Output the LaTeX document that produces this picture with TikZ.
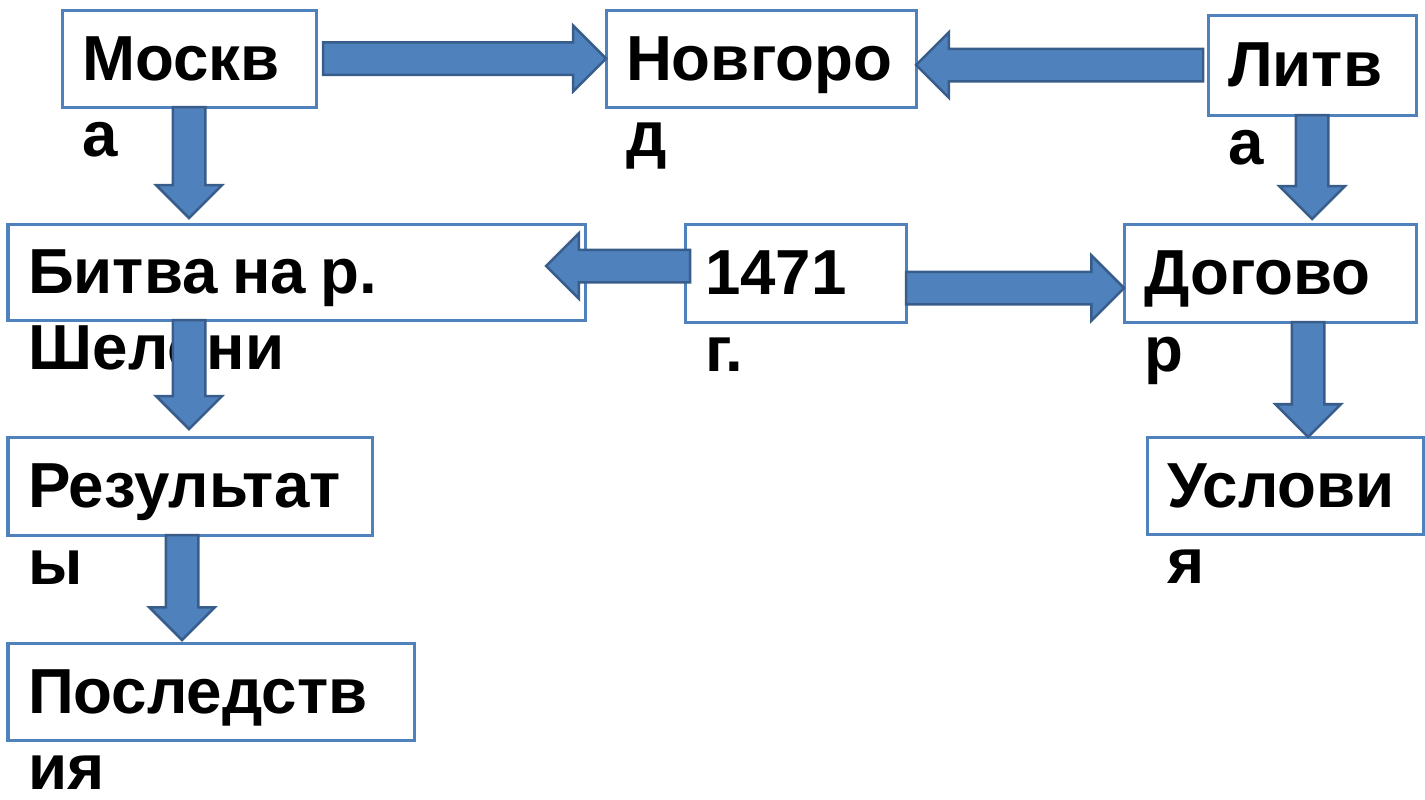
\documentclass[tikz,border=0pt]{standalone}
\usepackage{fontspec}
\setmainfont{Liberation Sans}
\usetikzlibrary{calc,shapes.arrows}

\definecolor{boxline}{RGB}{79,129,189}
\definecolor{arrowfill}{RGB}{79,129,189}
\definecolor{arrowline}{RGB}{56,93,138}

\newcommand\blockarrow[2]{%
  \path let \p1=($(#2)-(#1)$), \n1={veclen(\x1,\y1)}, \n2={atan2(\y1,\x1)} in
    node[barrow, minimum height=\n1, rotate=\n2, anchor=tail] at (#1) {};}

\begin{document}
\begin{tikzpicture}[x=0.01cm,y=-0.01cm,
  font={\bfseries\fontsize{18.1}{22}\selectfont\spaceskip=0.23em\relax},
  box/.style={draw=boxline, line width=0.03cm, fill=white, anchor=north west,
    inner xsep=0.2cm, inner ysep=0pt, outer sep=0pt, align=flush left,
    text height=0.47cm, text depth=0.04cm},
  rest/.style={anchor=base west, inner sep=0pt},
  barrow/.style={single arrow, draw=arrowline, fill=arrowfill, line width=0.025cm,
    inner xsep=0pt, inner ysep=0.15cm, single arrow head extend=0.165cm,
    single arrow tip angle=90, outer sep=0pt}]
\useasboundingbox (0,0) rectangle (1425,799);

% boxes: name/left/top/width/height/first line/rest
\foreach \name/\bx/\by/\bw/\bh/\first/\second in {
  moskva/62/10/254/97/Москв/а,
  novgorod/606/10/310/97/Новгоро/д,
  litva/1208/15/208/100/Литв/а,
  bitva/8/224/577/96/Битва на р./Шелони,
  god/685/224/221/98/1471/г.,
  dogovor/1124/224/292/98/Догово/р,
  result/8/437/364/98/Результат/ы,
  uslov/1147/437/276/97/Услови/я,
  posled/8/643/406/97/Последств/ия}
{
  \pgfmathsetmacro\tw{(\bw-40)*0.01}
  \node[box, minimum width=\bw*0.01cm, minimum height=\bh*0.01cm, text width=\tw cm]
    (\name) at (\bx,\by) {\first};
  \node[rest] (\name-2) at ([xshift=0.2cm,yshift=-0.49cm]\name.south west) {\second};
}

% arrow ends
\coordinate (a1s) at ([xshift=0.07cm]moskva.east);
\coordinate (a1e) at (a1s -| novgorod.west);
\coordinate (a2s) at ([xshift=-0.05cm]litva.west);
\coordinate (a2e) at (a2s -| novgorod.east);
\coordinate (a3s) at (moskva.south);
\coordinate (a3e) at ([yshift=0.06cm]moskva.south |- bitva.north);
\coordinate (a4s) at (litva.south);
\coordinate (a4e) at ([yshift=0.05cm]litva.south |- dogovor.north);
\coordinate (a5s) at ([xshift=0.05cm,yshift=0.07cm]god.west);
\coordinate (a5e) at ($(a5s -| bitva.east)+(-39,0)$);
\coordinate (a6s) at ([yshift=-0.15cm]god.east);
\coordinate (a6e) at (a6s -| dogovor.west);
\coordinate (a7s) at (moskva.south |- bitva.south);
\coordinate (a7e) at ([yshift=0.08cm]moskva.south |- result.north);
\coordinate (a8s) at ([xshift=-0.04cm]litva.south |- dogovor.south);
\coordinate (a8e) at (a8s |- uslov.north);
\coordinate (a9s) at ([xshift=-0.08cm]result.south);
\coordinate (a9e) at ([yshift=0.03cm]a9s |- posled.north);

\foreach \s/\e in {a1s/a1e,a2s/a2e,a3s/a3e,a4s/a4e,a5s/a5e,
                   a6s/a6e,a7s/a7e,a8s/a8e,a9s/a9e}
  {\blockarrow{\s}{\e}}
\end{tikzpicture}
\end{document}
